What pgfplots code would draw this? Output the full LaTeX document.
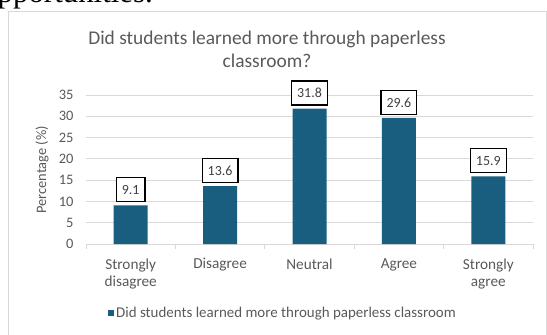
\documentclass[border=0pt]{standalone}
\usepackage{pgfplots}
\pgfplotsset{compat=1.18}
\usepackage{fontspec}
\setmainfont{Carlito}
\newfontfamily\seriffont{Liberation Serif}
\definecolor{barc}{RGB}{26,94,127}
\definecolor{txt}{RGB}{89,89,89}
\definecolor{gridc}{RGB}{217,217,217}
\begin{document}
\begin{tikzpicture}[x=1bp,y=1bp]
\path[use as bounding box] (0,0) rectangle (547,-334);
\begin{scope}
\clip (0,0) rectangle (547,-334);
\node[anchor=base west, inner sep=0pt, font=\seriffont\fontsize{31}{31}\selectfont] at (-18,-2.5) {opportunities.};
\draw[gridc, line width=1bp] (8,-340) -- (8,-11.5) -- (546,-11.5) -- (546,-340);
\end{scope}
\node[text=txt, font=\fontsize{19.5}{23}\selectfont, anchor=base] at (267,-44) {Did students learned more through paperless};
\node[text=txt, font=\fontsize{19.5}{23}\selectfont, anchor=base] at (267,-67) {classroom?};
\node[rotate=90, text=txt, font=\fontsize{14.5}{16}\selectfont] at (42,-170) {Percentage (\%)};
\begin{axis}[
  at={(86bp,-244bp)}, anchor=south west,
  scale only axis, width=447bp, height=149bp,
  ybar, bar width=34bp,
  xmin=-0.5, xmax=4.5, ymin=0, ymax=35,
  ytick={0,5,...,35},
  xtick={0,1,2,3,4},
  xticklabels={{Strongly\\disagree},Disagree,Neutral,Agree,{Strongly\\agree}},
  xticklabel style={align=center, text=txt, font=\fontsize{15.3}{18}\selectfont, inner sep=0pt, yshift=-10bp},
  yticklabel style={text=txt, font=\fontsize{14.5}{14.5}\selectfont, xshift=-9bp},
  /pgf/number format/assume math mode=true,
  axis x line*=bottom, axis y line*=left,
  y axis line style={draw=none},
  x axis line style={gridc, line width=1bp},
  ytick style={draw=none},
  xtick style={draw=none},
  extra x ticks={-0.5,0.5,1.5,2.5,3.5,4.5},
  extra x tick labels={},
  extra x tick style={tick align=outside, major tick length=5bp, xtick style={draw=gridc, line width=1bp}, grid=none},
  ymajorgrids, grid style={gridc, line width=1bp},
  nodes near coords={\pgfmathprintnumber[fixed,fixed zerofill,precision=1]{\pgfplotspointmeta}},
  every node near coord/.append style={anchor=south, draw=black, line width=1.2bp, fill=white, text=black!75, font=\fontsize{14}{14}\selectfont, inner xsep=5.5bp, minimum height=24bp, yshift=3bp},
  legend style={at={(0.4407,-0.463)}, anchor=center, draw=none, fill=none, font=\fontsize{15}{15}\selectfont, text=txt},
  legend image code/.code={\fill[#1,draw=none] (0bp,-3bp) rectangle (6bp,3bp);},
]
\addplot[fill=barc, draw=none] coordinates {(0,9.1) (1,13.6) (2,31.8) (3,29.6) (4,15.9)};
\addlegendentry{Did students learned more through paperless classroom}
\end{axis}
\end{tikzpicture}
\end{document}
